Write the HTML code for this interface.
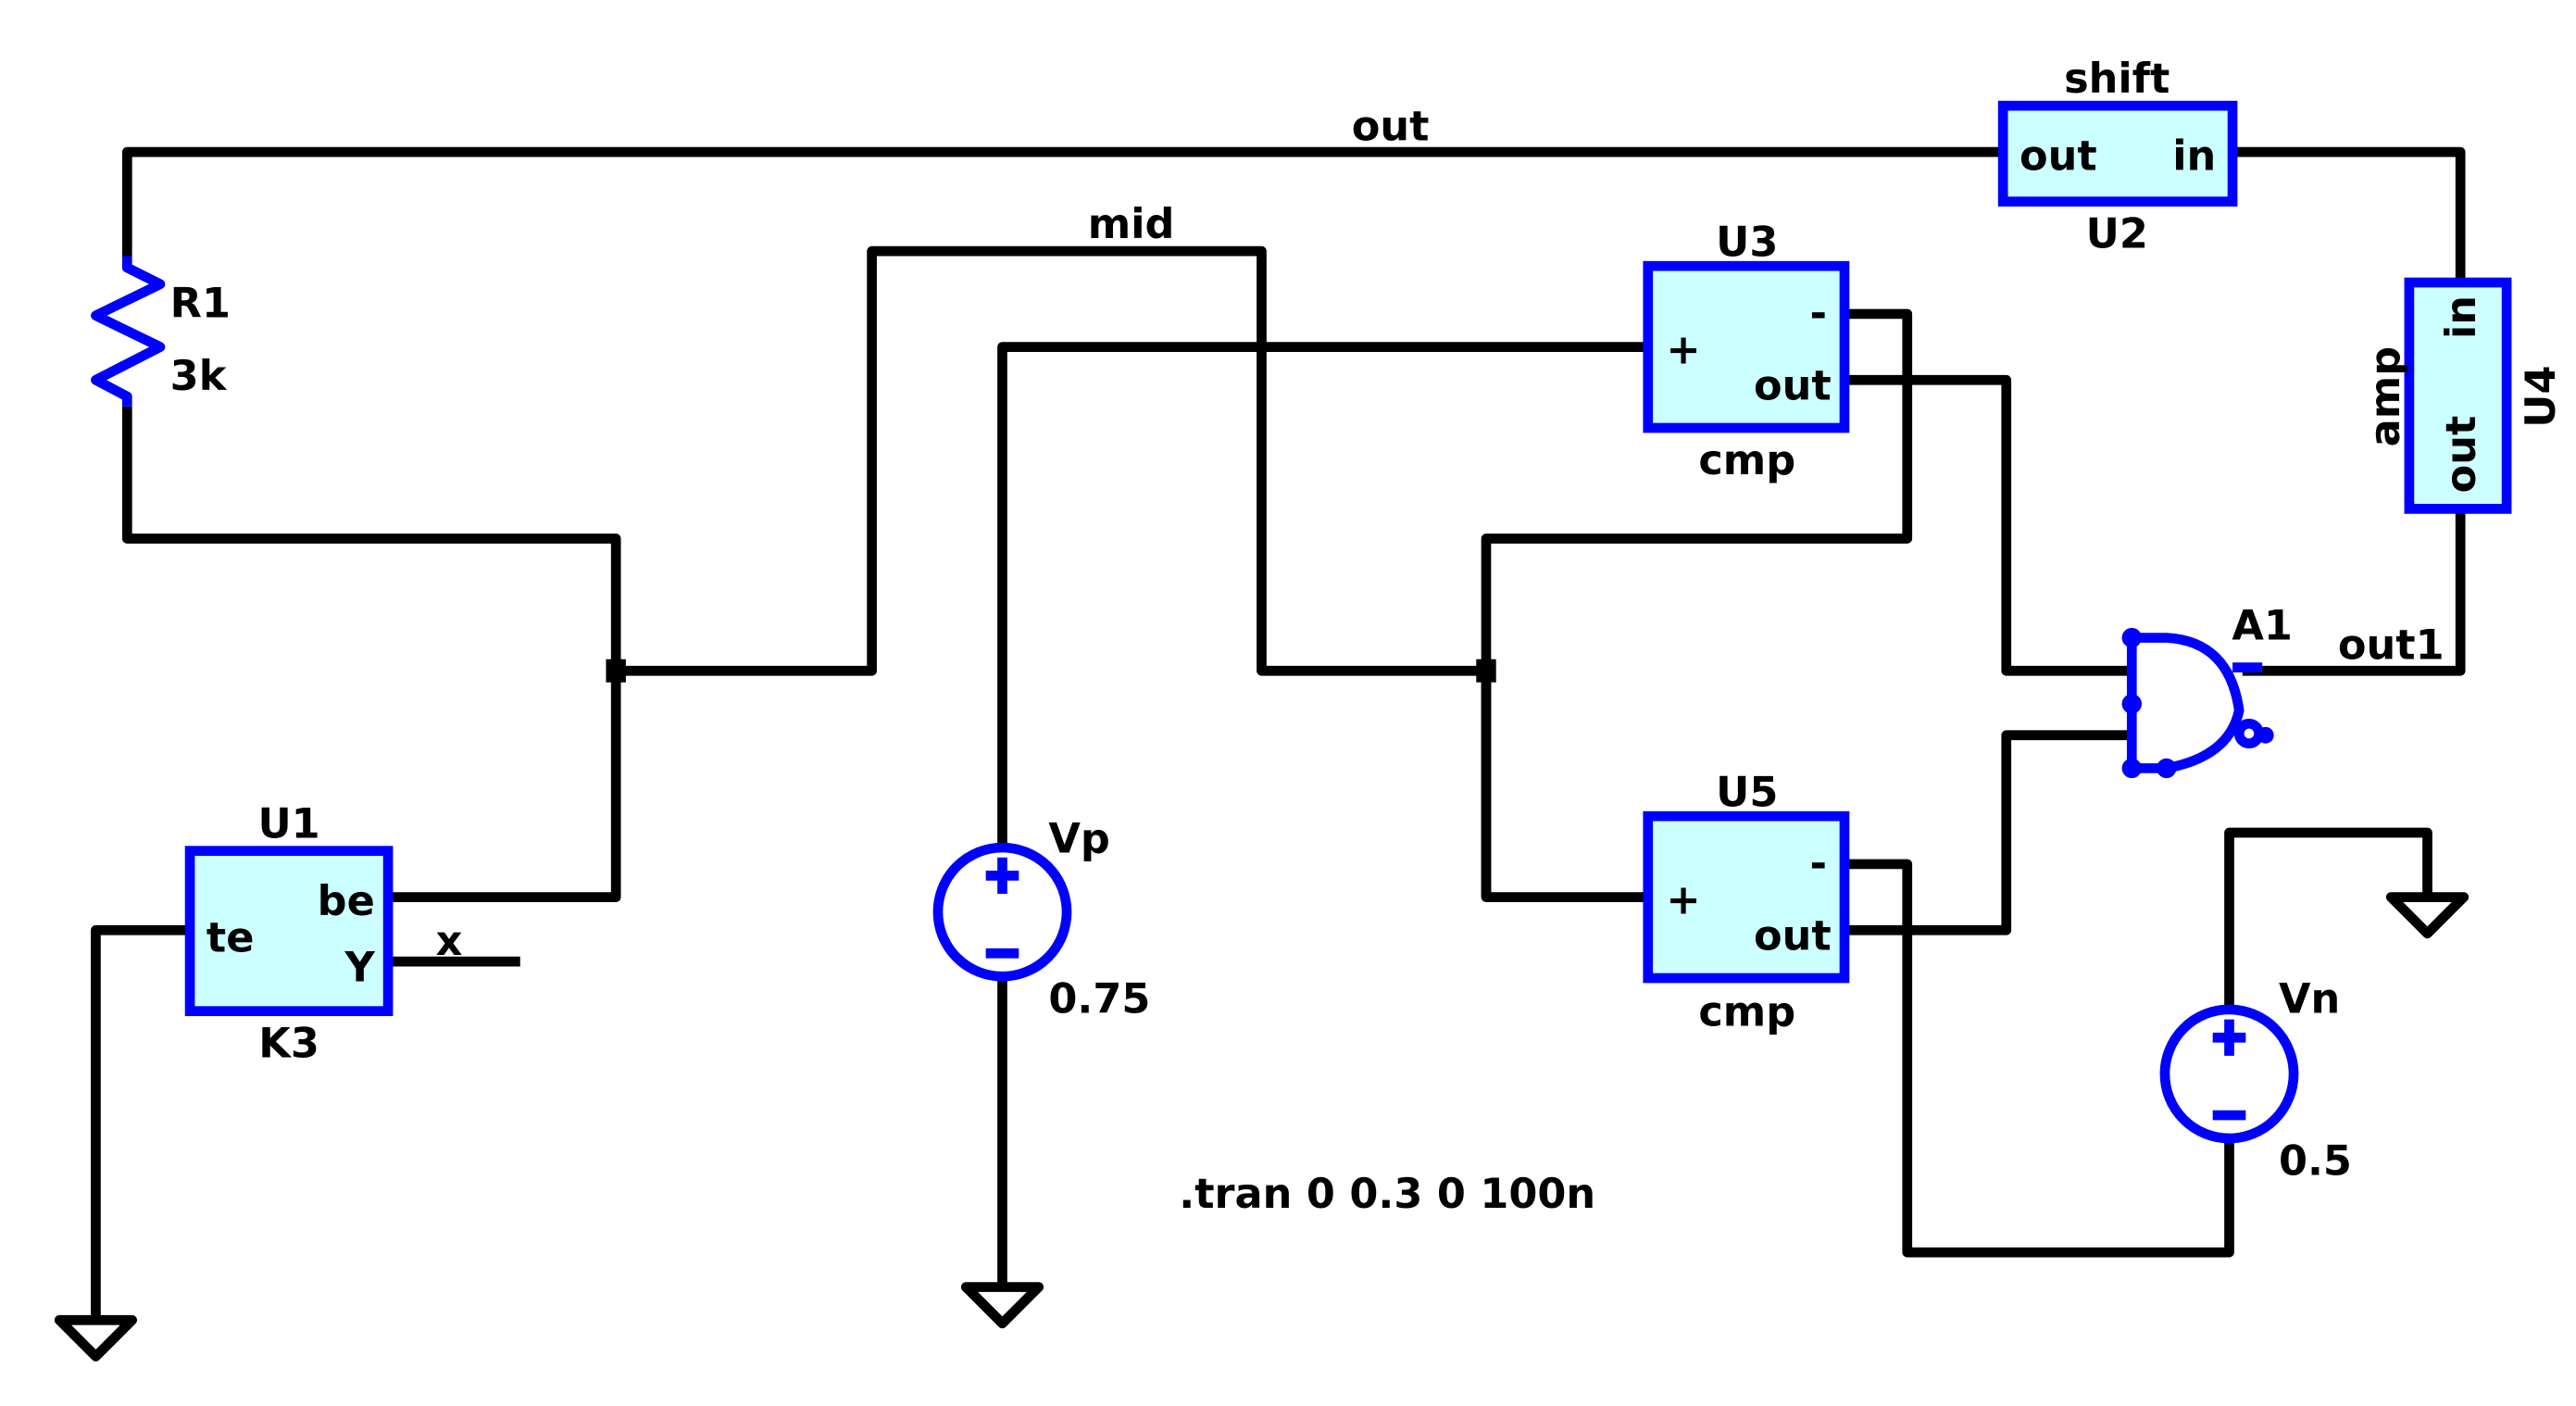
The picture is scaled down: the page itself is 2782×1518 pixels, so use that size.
<!DOCTYPE html>
<html><head><meta charset="utf-8"><style>
html,body{margin:0;padding:0;background:#fff;}
svg{display:block;}
text{font-family:"DejaVu Sans","Liberation Sans",sans-serif;font-weight:bold;font-size:25px;fill:#000;}
</style></head><body>
<svg width="2782" height="1518" viewBox="0 0 1560 851" preserveAspectRatio="none" xmlns="http://www.w3.org/2000/svg">
<g fill="none" stroke="#000" stroke-width="6" stroke-linejoin="round" stroke-linecap="butt">
<polyline points="77,155 77,92 1213,92"/>
<polyline points="1352,92 1490,92 1490,170"/>
<polyline points="1490,308 1490,406 1358,406"/>
<polyline points="77,246 77,326 373,326 373,543 235,543"/>
<line x1="235" y1="582" x2="315" y2="582"/>
<polyline points="373,406 528,406 528,152 764,152 764,406 900,406"/>
<polyline points="900,543 900,326 1155,326 1155,190 1117,190"/>
<polyline points="900,406 900,543 998,543"/>
<polyline points="998,210 607,210 607,512"/>
<line x1="607" y1="592" x2="607" y2="780"/>
<polyline points="1117,230 1215,230 1215,406 1290,406"/>
<polyline points="1117,563 1215,563 1215,445 1290,445"/>
<polyline points="1117,523 1155,523 1155,758 1350,758 1350,689"/>
<polyline points="1350,611 1350,504 1470,504 1470,543"/>
<polyline points="115,563 58,563 58,799"/>
<polygon points="36,799 80,799 58,821"/>
<polygon points="585,779 629,779 607,801"/>
<polygon points="1448,543 1492,543 1470,565"/>
</g>
<rect x="367" y="399" width="12" height="14" fill="#000"/>
<rect x="894" y="399" width="12" height="14" fill="#000"/>
<polyline points="77,155 77,162 97,172 58,191 97,210 58,230 77,240 77,246" fill="none" stroke="#0000ff" stroke-width="6" stroke-linejoin="round"/>
<g fill="#ccffff" stroke="#0000ff" stroke-width="6">
<rect x="1213" y="64" width="139" height="58"/>
<rect x="1459" y="171" width="59" height="137"/>
<rect x="998" y="161" width="119" height="98"/>
<rect x="998" y="494" width="119" height="98"/>
<rect x="115" y="515" width="120" height="97"/>
</g>
<g fill="none" stroke="#0000ff" stroke-width="6">
<circle cx="607" cy="552" r="39"/>
<circle cx="1350" cy="650" r="39"/>
<line x1="597" y1="530" x2="617" y2="530"/><line x1="607" y1="519" x2="607" y2="541"/>
<line x1="597" y1="577" x2="617" y2="577"/>
<line x1="1340" y1="628" x2="1360" y2="628"/><line x1="1350" y1="617" x2="1350" y2="639"/>
<line x1="1340" y1="675" x2="1360" y2="675"/>
<line x1="1291" y1="385" x2="1291" y2="465"/>
<path d="M1291,386 L1312,386 Q1350,388 1356,430 Q1350,458 1312,465 L1291,465"/>
<line x1="1352" y1="404" x2="1370" y2="404"/>
<circle cx="1362" cy="444" r="6"/>
</g>
<g fill="#0000ff">
<circle cx="1291" cy="386" r="6"/><circle cx="1291" cy="426" r="6"/>
<circle cx="1291" cy="465" r="6"/><circle cx="1312" cy="465" r="6"/>
<circle cx="1372" cy="445" r="5"/>
</g>
<text x="842" y="85" text-anchor="middle">out</text>
<text x="685" y="144" text-anchor="middle">mid</text>
<text x="1282" y="56" text-anchor="middle">shift</text>
<text x="1223" y="103">out</text>
<text x="1342" y="103" text-anchor="end">in</text>
<text x="1282" y="150" text-anchor="middle">U2</text>
<text transform="translate(1499,192) rotate(-90)" text-anchor="middle">in</text>
<text transform="translate(1499,275) rotate(-90)" text-anchor="middle">out</text>
<text transform="translate(1453,240) rotate(-90)" text-anchor="middle">amp</text>
<text transform="translate(1547,240) rotate(-90)" text-anchor="middle">U4</text>
<text x="103" y="192">R1</text>
<text x="103" y="236">3k</text>
<text x="1058" y="155" text-anchor="middle">U3</text>
<text x="1009" y="220">+</text>
<text x="1096" y="198">-</text>
<text x="1109" y="242" text-anchor="end">out</text>
<text x="1058" y="287" text-anchor="middle">cmp</text>
<text x="1058" y="488" text-anchor="middle">U5</text>
<text x="1009" y="553">+</text>
<text x="1096" y="531">-</text>
<text x="1109" y="575" text-anchor="end">out</text>
<text x="1058" y="621" text-anchor="middle">cmp</text>
<text x="1370" y="387" text-anchor="middle">A1</text>
<text x="1448" y="399" text-anchor="middle">out1</text>
<text x="175" y="507" text-anchor="middle">U1</text>
<text x="125" y="576">te</text>
<text x="227" y="554" text-anchor="end">be</text>
<text x="227" y="594" text-anchor="end">Y</text>
<text x="272" y="578" text-anchor="middle">x</text>
<text x="175" y="640" text-anchor="middle">K3</text>
<text x="635" y="516">Vp</text>
<text x="635" y="613">0.75</text>
<text x="1380" y="613">Vn</text>
<text x="1380" y="711">0.5</text>
<text x="714" y="731">.tran 0 0.3 0 100n</text>
</svg>
</body></html>
